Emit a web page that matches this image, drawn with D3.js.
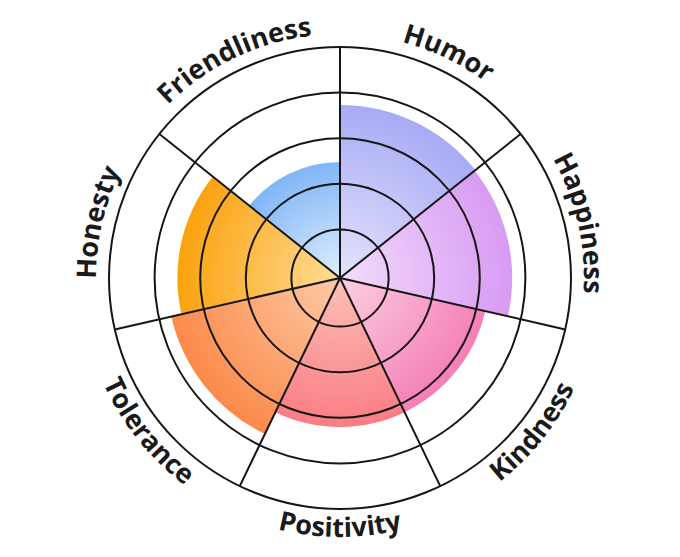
<!DOCTYPE html>
<html>
<head>
<meta charset="utf-8">
<script src="https://cdn.jsdelivr.net/npm/d3@7"></script>
<style>
  body { margin: 0; background: #fff; }
  svg { display: block; }
</style>
</head>
<body>
<svg width="680" height="557"></svg>
<script>
const categories = ["Humor", "Happiness", "Kindness", "Positivity", "Tolerance", "Honesty", "Friendliness"];
const values = [3.73, 3.71, 3.2, 3.2, 3.73, 3.5, 2.48];
const innerColors = ["#e4e3fc", "#f3dcfc", "#fdd0e2", "#fcc0b8", "#fdcaa8", "#fedd96", "#e0eefe"];
const outerColors = ["#a8abf5", "#d89bf3", "#f47fb6", "#fa7d85", "#fb8a4a", "#fba20f", "#80b6f6"];
const ringTicks = [1, 2, 3, 4, 5];
// labels on the lower half read counter-clockwise so they stay upright
const flipped = ["Kindness", "Positivity", "Tolerance"];

const svg = d3.select("svg");
const cx = 340;
const cy = 278;
const outerR = 231;

const rScale = d3.scaleLinear().domain([0, 5]).range([3, outerR]);
const angle = d3.scaleBand().domain(categories).range([0, 2 * Math.PI]);

const defs = svg.append("defs");
categories.forEach((c, i) => {
  const g = defs.append("radialGradient")
    .attr("id", "grad" + i)
    .attr("gradientUnits", "userSpaceOnUse")
    .attr("cx", 0).attr("cy", 0)
    .attr("r", rScale(values[i]));
  g.append("stop").attr("offset", "0%").attr("stop-color", innerColors[i]);
  g.append("stop").attr("offset", "100%").attr("stop-color", outerColors[i]);
});

const chart = svg.append("g").attr("transform", `translate(${cx},${cy})`);

const arc = d3.arc()
  .innerRadius(0)
  .outerRadius(d => rScale(d.value))
  .startAngle(d => angle(d.cat))
  .endAngle(d => angle(d.cat) + angle.bandwidth());

const data = categories.map((c, i) => ({ cat: c, value: values[i], i }));

chart.selectAll("path.bar")
  .data(data)
  .enter()
  .append("path")
  .attr("class", "bar")
  .attr("d", arc)
  .attr("fill", d => `url(#grad${d.i})`);

// grid rings
chart.selectAll("circle.ring")
  .data(ringTicks)
  .enter()
  .append("circle")
  .attr("class", "ring")
  .attr("r", d => rScale(d))
  .attr("fill", "none")
  .attr("stroke", "#161616")
  .attr("stroke-width", 2);

// spokes
chart.selectAll("line.spoke")
  .data(categories)
  .enter()
  .append("line")
  .attr("class", "spoke")
  .attr("x1", 0).attr("y1", 0)
  .attr("x2", d => outerR * Math.sin(angle(d)))
  .attr("y2", d => -outerR * Math.cos(angle(d)))
  .attr("stroke", "#161616")
  .attr("stroke-width", 2);

// curved labels
const span = 0.8;
categories.forEach((c, i) => {
  const mid = angle(c) + angle.bandwidth() / 2;
  const flip = flipped.includes(c);
  const R = flip ? 259 : 244;
  const a0 = mid - span, a1 = mid + span;
  const pt = a => [R * Math.sin(a), -R * Math.cos(a)];
  const [sx, sy] = pt(flip ? a1 : a0);
  const [ex, ey] = pt(flip ? a0 : a1);
  defs.append("path")
    .attr("id", "lab" + i)
    .attr("d", `M${sx},${sy} A${R},${R} 0 0 ${flip ? 0 : 1} ${ex},${ey}`);
  chart.append("text")
    .attr("font-family", "'Open Sans', sans-serif")
    .attr("font-weight", 700)
    .attr("font-size", 27)
    .attr("fill", "#1a1a1a")
    .append("textPath")
    .attr("href", "#lab" + i)
    .attr("startOffset", "50%")
    .attr("text-anchor", "middle")
    .text(c);
});
</script>
</body>
</html>
